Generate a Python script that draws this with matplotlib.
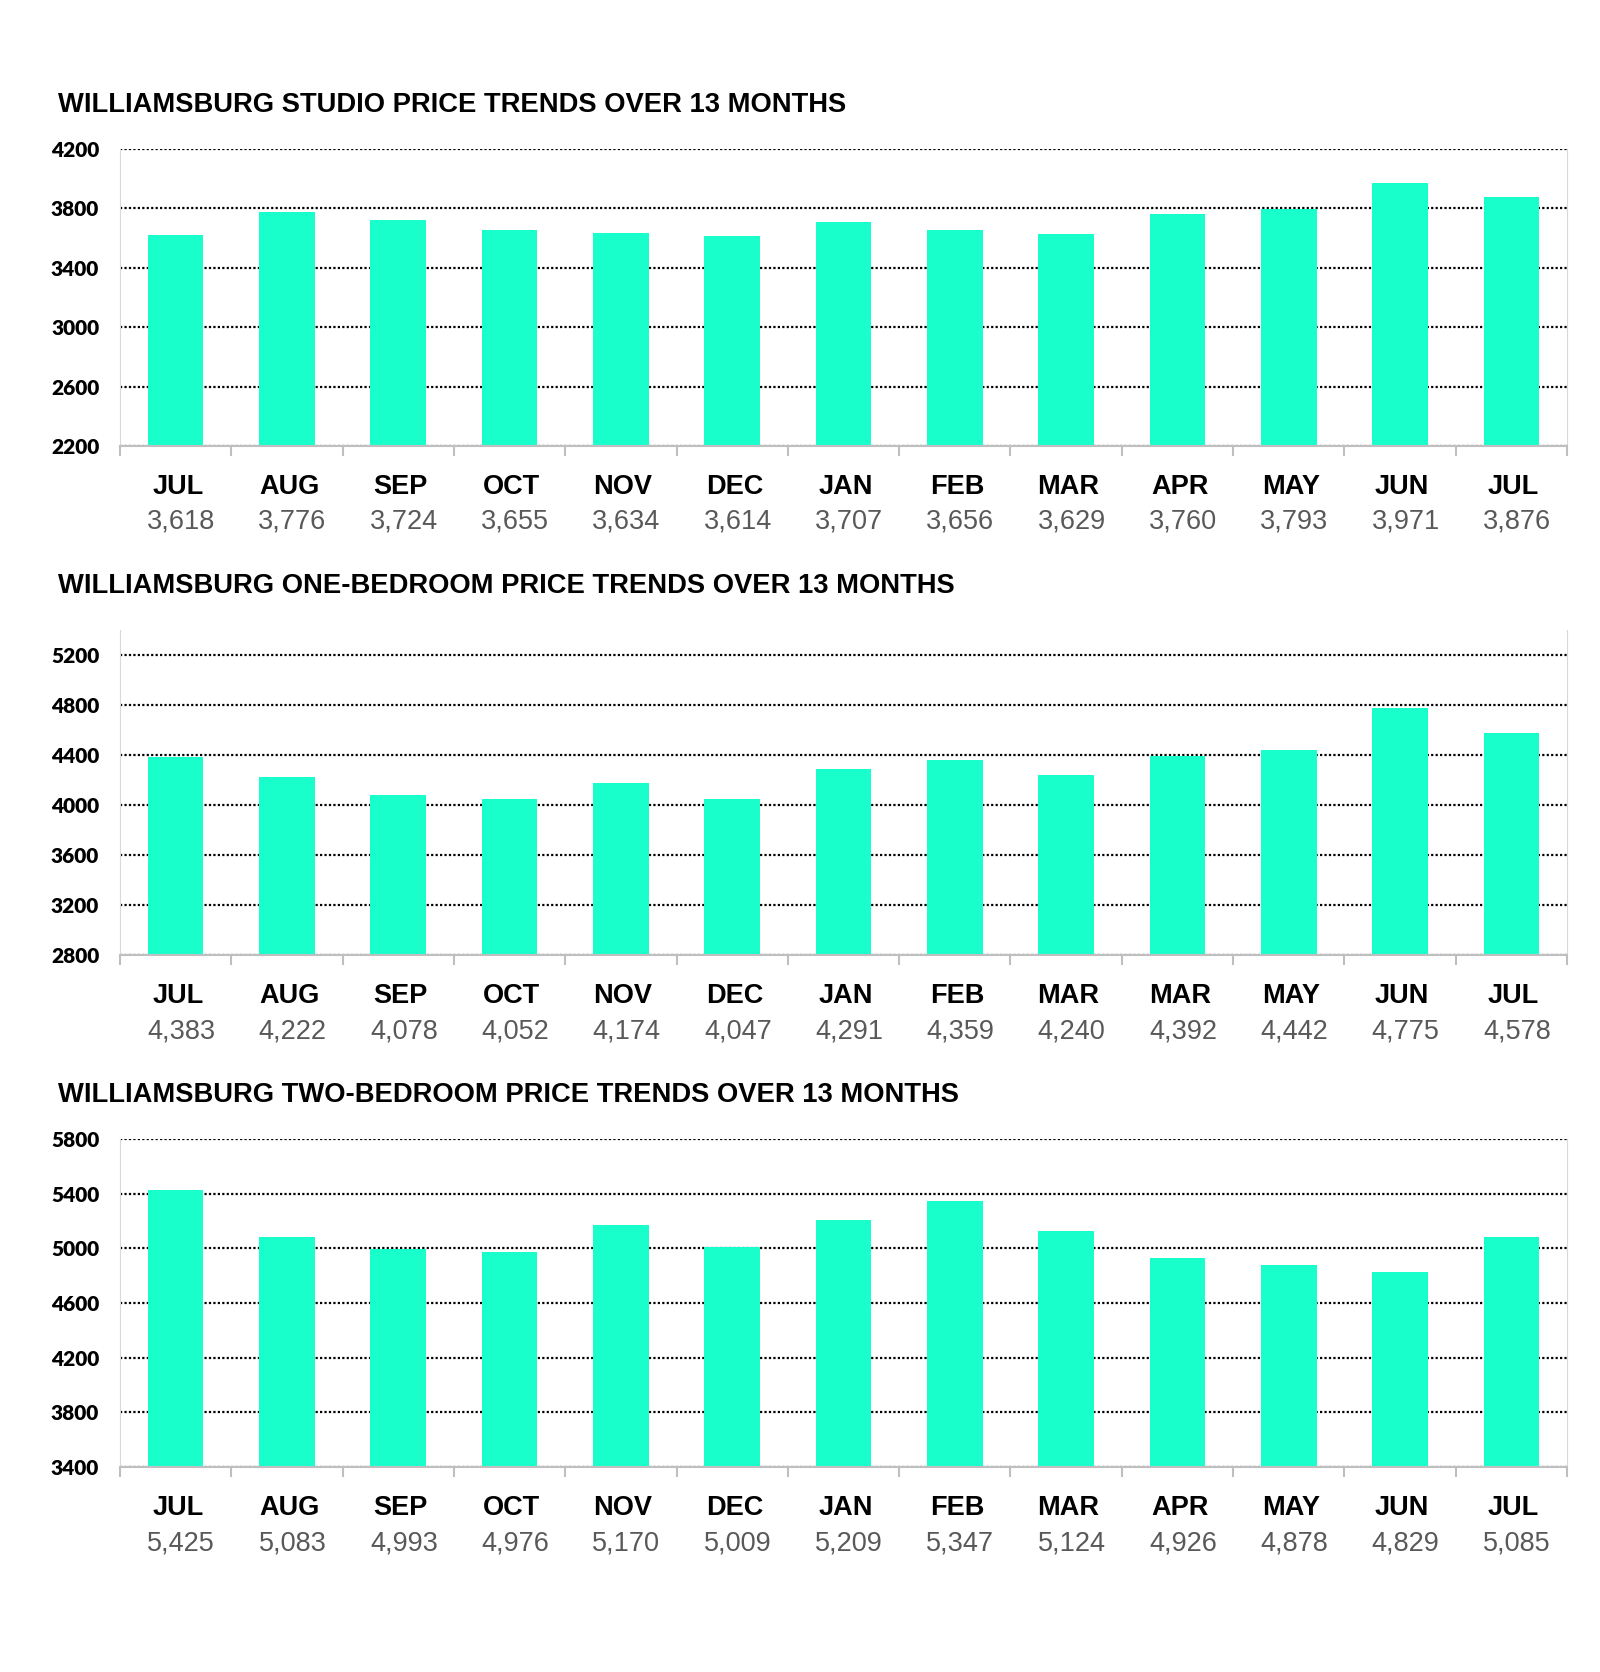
#!/usr/bin/env python3
"""
Williamsburg rent price trends over 13 months (studio / 1BR / 2BR).
"""

import matplotlib.pyplot as plt
from matplotlib.transforms import blended_transform_factory

months_studio = ["JUL", "AUG", "SEP", "OCT", "NOV", "DEC", "JAN", "FEB", "MAR", "APR", "MAY", "JUN", "JUL"]
studio = [3618, 3776, 3724, 3655, 3634, 3614, 3707, 3656, 3629, 3760, 3793, 3971, 3876]

months_one_bed = ["JUL", "AUG", "SEP", "OCT", "NOV", "DEC", "JAN", "FEB", "MAR", "MAR", "MAY", "JUN", "JUL"]
one_bed = [4383, 4222, 4078, 4052, 4174, 4047, 4291, 4359, 4240, 4392, 4442, 4775, 4578]

months_two_bed = ["JUL", "AUG", "SEP", "OCT", "NOV", "DEC", "JAN", "FEB", "MAR", "APR", "MAY", "JUN", "JUL"]
two_bed = [5425, 5083, 4993, 4976, 5170, 5009, 5209, 5347, 5124, 4926, 4878, 4829, 5085]

titles = [
    "WILLIAMSBURG STUDIO PRICE TRENDS OVER 13 MONTHS",
    "WILLIAMSBURG ONE-BEDROOM PRICE TRENDS OVER 13 MONTHS",
    "WILLIAMSBURG TWO-BEDROOM PRICE TRENDS OVER 13 MONTHS",
]
y_ticks = [
    [2200, 2600, 3000, 3400, 3800, 4200],
    [2800, 3200, 3600, 4000, 4400, 4800, 5200],
    [3400, 3800, 4200, 4600, 5000, 5400, 5800],
]
y_limits = [(2200, 4200), (2800, 5400), (3400, 5800)]

BAR = "#19FFCC"
W, H = 1600, 1672


def _panel(fig, rect, months, values, ticks, ylim, title, title_y):
    ax = fig.add_axes(rect)
    x = list(range(len(values)))
    ax.bar(x, [v - ylim[0] for v in values], bottom=ylim[0], width=0.5, color=BAR, zorder=2)
    ax.set_xlim(-0.5, len(values) - 0.5)
    ax.set_ylim(*ylim)
    ax.set_yticks(ticks)
    ax.set_yticklabels([str(t) for t in ticks], fontfamily="Lato", fontweight="heavy", fontsize=15)
    ax.tick_params(axis="y", length=0, pad=15)
    ax.grid(axis="y", color="black", linestyle=(0, (1, 1)), linewidth=1.6, zorder=1)

    ax.set_xticks([])
    ax.set_xticks([i - 0.5 for i in range(len(values) + 1)], minor=True)
    ax.tick_params(axis="x", which="minor", length=7, width=1.5, color="#BFBFBF", labelbottom=False)

    ax.spines["top"].set_visible(False)
    ax.spines["left"].set_color("#D9D9D9")
    ax.spines["right"].set_color("#D9D9D9")
    ax.spines["bottom"].set_color("#BFBFBF")
    ax.spines["bottom"].set_linewidth(1.5)

    tr = blended_transform_factory(ax.transData, fig.transFigure)
    bottom_px = (1 - rect[1]) * H
    for i, (m, v) in enumerate(zip(months, values)):
        ax.text(i + 0.02, 1 - (bottom_px + 41) / H, m, transform=tr, ha="center", va="center",
                fontsize=19.5, fontweight="bold", fontfamily="Liberation Sans", color="black")
        ax.text(i + 0.05, 1 - (bottom_px + 76) / H, f"{v:,}", transform=tr, ha="center", va="center",
                fontsize=19.5, fontfamily="Liberation Sans", color="#595959")

    fig.text(58 / W, 1 - title_y / H, title, ha="left", va="center",
             fontsize=19.7, fontweight="bold", fontfamily="Liberation Sans", color="black")
    return ax


def main() -> int:
    fig = plt.figure(figsize=(W / 100, H / 100), dpi=100)
    left = 120 / W
    width = (1567 - 120) / W
    panels = [
        (149, 446, months_studio, studio, 105),
        (630, 955, months_one_bed, one_bed, 586),
        (1139, 1467, months_two_bed, two_bed, 1095),
    ]
    for k, (top, bot, months, values, ty) in enumerate(panels):
        rect = [left, 1 - bot / H, width, (bot - top) / H]
        _panel(fig, rect, months, values, y_ticks[k], y_limits[k], titles[k], ty)

    fig.savefig("out.png", dpi=100, facecolor="white")
    plt.close(fig)
    return 0


if __name__ == "__main__":
    raise SystemExit(main())
